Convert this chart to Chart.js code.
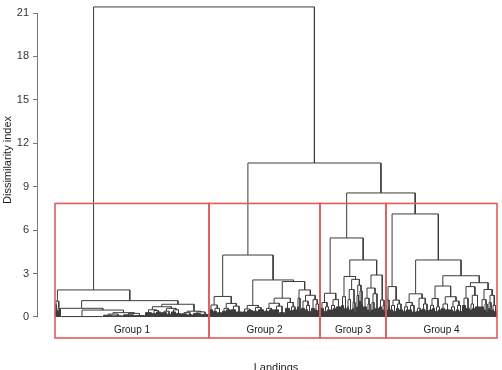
<!DOCTYPE html>
<html><head><meta charset="utf-8">
<script src="https://cdn.jsdelivr.net/npm/chart.js@4/dist/chart.umd.min.js"></script>
<style>html,body{margin:0;padding:0;background:#fff}#wrap{width:502px;height:370px;position:relative}</style>
</head><body><div id="wrap"><canvas id="c"></canvas></div>
<script>
// ---------------- DATA ----------------
const yTickValues = [0, 3, 6, 9, 12, 15, 18, 21];
const groupNames = ['Group 1', 'Group 2', 'Group 3', 'Group 4'];
const yTitle = 'Dissimilarity index';
const xTitle = 'Landings';
// heights of the three top merges: root, Group2 vs (3,4), Group3 vs Group4
const topMergeHeights = [21.42, 10.64, 8.57];
// subtrees: [height, left, right] = a merge; [height, n] = n landings joined at that height
const group1Tree = [1.87,
  [1.1, [0.85, 2], [0.6, [0.45, 2], [0, 1]]],
  [1.13,
    [0.6, [0, 1], [0.48, [0.03, 42], [0.3, [0.2, [0.12, 10], [0.08, 10]], [0.25, [0.15, 11], [0.1, 11]]]]],
    [0.88,
      [0.71, [0.5, [0.3, 7], [0.45, [0.25, 4], [0.35, 5]]], [0.6, [0.4, [0.3, 6], [0.2, 4]], [0.5, [0.35, 5], [0.25, 5]]]],
      [0.4, [0.3, [0.22, 6], [0.15, 6]], [0.35, [0.25, 8], [0.18, 8]]]
    ]
  ]
];
const group2Tree = [4.28,
  [1.42,
    [0.83, [0.5, 4], [0.6, [0.4, 4], [0.3, 5]]],
    [0.94, [0.6, [0.4, 4], [0.5, 5]], [0.75, [0.5, 5], [0.35, 6]]]
  ],
  [2.56,
    [0.8, [0.55, [0.35, 5], [0.45, 6]], [0.65, [0.4, 5], [0.5, 6]]],
    [2.45,
      [1.3,
        [0.95, [0.6, [0.4, 5], [0.5, 5]], [0.75, [0.5, 5], [0.3, 6]]],
        [1.0, [0.6, 5], [0.7, [0.45, 3], [0.5, 4]]]
      ],
      [1.87,
        [1.3, [0.7, 2], [0.5, 2]],
        [1.5, [1.1, [0.6, 4], [0.8, [0.5, 3], [0.4, 3]]], [1.2, [0.6, 4], [0.9, [0.5, 2], [0.45, 3]]]]
      ]
    ]
  ]
];
const group3Tree = [5.46,
  [1.64,
    [1.0, [0.6, 4], [0.7, [0.4, 3], [0.5, 3]]],
    [1.2, [0.8, [0.5, 3], [0.6, 3]], [0.7, 5]]
  ],
  [3.94,
    [2.8,
      [1.4, [0.8, 3], [0.6, 3]],
      [2.6,
        [1.9, [1.2, [0.7, 2], [0.5, 3]], [1.0, [0.6, 2], [0.4, 2]]],
        [2.2, [1.5, [0.7, 2], [0, 1]], [1.8, [1.1, 2], [0.9, 2]]]
      ]
    ],
    [2.9,
      [2.0, [1.3, [0.7, 4], [0.9, [0.5, 2], [0.4, 2]]], [1.6, [1.0, [0.5, 2], [0.6, 2]], [0.6, 4]]],
      [1.17, [0.7, 3], [0.8, [0.5, 2], [0.4, 2]]]
    ]
  ]
];
const group4Tree = [7.12,
  [2.1,
    [1.17, [0.5, 2], [0.7, 2]],
    [1.17, [0.8, [0.5, 3], [0.4, 3]], [0.9, [0.6, 3], [0.5, 4]]]
  ],
  [3.94,
    [1.6,
      [1.0, [0.7, [0.4, 3], [0.5, 3]], [0.8, [0.5, 3], [0.35, 4]]],
      [1.3, [0.6, [0.4, 3], [0.5, 3]], [0.9, [0.55, 3], [0.45, 4]]]
    ],
    [2.85,
      [2.14,
        [1.28, [0.8, [0.5, 3], [0.6, 3]], [0.7, [0.4, 3], [0.5, 3]]],
        [1.4, [0.9, [0.6, 4], [0.5, 5]], [1.1, [0.7, [0.5, 3], [0.4, 3]], [0.8, [0.5, 3], [0.4, 3]]]]
      ],
      [2.37,
        [2.1, [1.3, [0.8, 4], [0.6, 4]], [1.5, [0.9, [0.5, 2], [0.6, 3]], [0.7, 5]]],
        [1.9, [1.2, [0.7, 4], [0.9, [0.5, 2], [0.4, 2]]], [1.5, [1.0, [0.6, 2], [0.5, 2]], [0.8, [0.5, 2], [0.4, 3]]]]
      ]
    ]
  ]
];

// ---------------- LAYOUT (leaf order -> x) ----------------
const groupTrees = [group1Tree, group2Tree, group3Tree, group4Tree];
const fullTree = [topMergeHeights[0], group1Tree,
  [topMergeHeights[1], group2Tree, [topMergeHeights[2], group3Tree, group4Tree]]];

const isCluster = n => n.length === 2 && typeof n[1] === 'number';
function countLeaves(n) { return isCluster(n) ? n[1] : countLeaves(n[1]) + countLeaves(n[2]); }

const linkPts = [];
let nextLeaf = 0;
function layout(n) {
  if (isCluster(n)) {
    const h = n[0], k = n[1], s = nextLeaf;
    nextLeaf += k;
    if (k === 1 || h === 0) return { x: s + (k - 1) / 2, h: 0 };
    for (let i = 0; i < k; i++) linkPts.push({ x: s + i, y: 0 }, { x: s + i, y: h }, { x: s + i, y: null });
    linkPts.push({ x: s, y: h }, { x: s + k - 1, y: h }, { x: s + k - 1, y: null });
    return { x: s + (k - 1) / 2, h: h };
  }
  const L = layout(n[1]), R = layout(n[2]), h = n[0];
  linkPts.push({ x: L.x, y: L.h }, { x: L.x, y: h }, { x: R.x, y: h }, { x: R.x, y: R.h }, { x: R.x, y: null });
  return { x: (L.x + R.x) / 2, h: h };
}
layout(fullTree);
const totalLeaves = nextLeaf;

// boxes around the 4 groups (rect.hclust style), in data units
const cutHeight = (topMergeHeights[2] + group4Tree[0]) / 2;
const boxBottom = -1.45;
const groupBounds = [];
let start = 0;
groupTrees.forEach(t => {
  const c = countLeaves(t);
  groupBounds.push([start - 0.5, start + c - 0.5]);
  start += c;
});

// ---------------- CHART ----------------
const FONT = '"Liberation Sans", Arial, Helvetica, sans-serif';
const overlayPlugin = {
  id: 'overlay',
  afterDatasetsDraw(chart) {
    const { ctx, scales: { x, y }, chartArea } = chart;
    ctx.save();
    // cluster boxes
    ctx.strokeStyle = '#e05c5c'; ctx.lineWidth = 1.6;
    const yt = y.getPixelForValue(cutHeight), yb = y.getPixelForValue(boxBottom);
    groupBounds.forEach(([a, b]) => {
      const xa = x.getPixelForValue(a), xb = x.getPixelForValue(b);
      ctx.strokeRect(xa, yt, xb - xa, yb - yt);
    });
    // axis line from 0 to 21
    ctx.strokeStyle = '#777'; ctx.lineWidth = 1;
    ctx.beginPath();
    ctx.moveTo(chartArea.left - 0.5, Math.round(y.getPixelForValue(yTickValues[0])) + 0.5);
    ctx.lineTo(chartArea.left - 0.5, Math.round(y.getPixelForValue(yTickValues[yTickValues.length - 1])) + 0.5);
    ctx.stroke();
    // group labels
    ctx.fillStyle = '#222';
    ctx.font = '10px ' + FONT;
    ctx.textAlign = 'center'; ctx.textBaseline = 'middle';
    groupNames.forEach((g, i) => ctx.fillText(g, x.getPixelForValue((groupBounds[i][0] + groupBounds[i][1]) / 2), y.getPixelForValue(-0.9)));
    // x title
    ctx.font = '11px ' + FONT;
    ctx.fillText(xTitle, x.getPixelForValue((totalLeaves - 1) / 2), 368);
    // y title
    ctx.translate(8, 160);
    ctx.rotate(-Math.PI / 2);
    ctx.fillText(yTitle, 0, 0);
    ctx.restore();
  }
};

new Chart(document.getElementById('c'), {
  type: 'line',
  data: {
    datasets: [
      { data: linkPts, borderColor: '#3c3c3c', borderWidth: 1, pointRadius: 0, spanGaps: false, fill: false, tension: 0 }
    ]
  },
  options: {
    responsive: true, maintainAspectRatio: false, animation: false,
    layout: { padding: { left: 0, right: 0, top: 0, bottom: 31 } },
    plugins: { legend: { display: false }, tooltip: { enabled: false } },
    scales: {
      x: { type: 'linear', display: false, min: -17.5, max: 446.5 },
      y: {
        type: 'linear', min: -1.52, max: 21.9,
        afterFit(s) { s.width = 38; s.paddingTop = 0; s.paddingBottom = 0; },
        afterBuildTicks(s) { s.ticks = yTickValues.map(v => ({ value: v })); },
        border: { display: false },
        grid: { drawOnChartArea: false, drawTicks: true, tickLength: 5, color: '#777' },
        ticks: { padding: 4, color: '#333', font: { size: 11, family: FONT } }
      }
    }
  },
  plugins: [overlayPlugin]
});
</script></body></html>
